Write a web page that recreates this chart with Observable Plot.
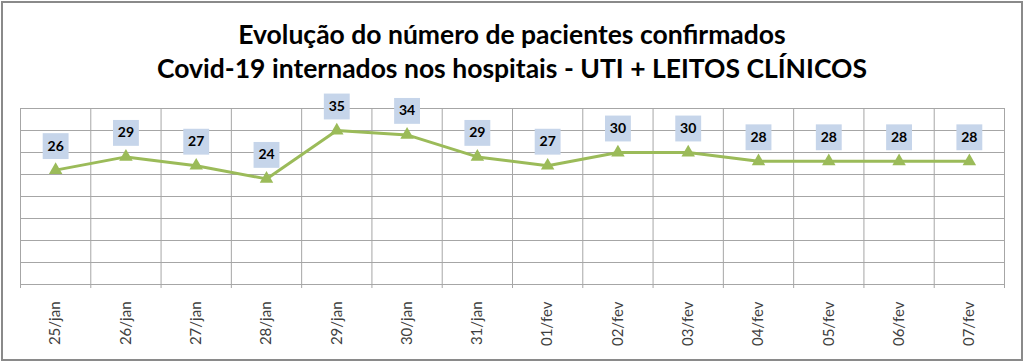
<!DOCTYPE html>
<html>
<head>
<meta charset="utf-8">
<script src="https://cdn.jsdelivr.net/npm/d3@7"></script>
<script src="https://cdn.jsdelivr.net/npm/@observablehq/plot@0.6"></script>
<style>
  html, body { margin: 0; padding: 0; background: #fff; width: 1024px; height: 364px; overflow: hidden; }
  #frame { position: absolute; left: 1px; top: 1px; width: 1018px; height: 356px; border: 2px solid #8a8a8a; pointer-events: none; z-index: 2; }
  #title { position: absolute; left: 0; top: 17px; width: 1024px; text-align: center; font-family: Lato, sans-serif; font-weight: 700; font-size: 26.5px; line-height: 34px; color: #000; }
  #chart { position: absolute; left: 0; top: 90px; }
</style>
</head>
<body>
<div id="frame"></div>
<div id="title">Evolução do número de pacientes confirmados<br>Covid-19 internados nos hospitais - UTI + LEITOS CLÍNICOS</div>
<div id="chart"></div>
<script>
const dates = ["25/jan","26/jan","27/jan","28/jan","29/jan","30/jan","31/jan","01/fev","02/fev","03/fev","04/fev","05/fev","06/fev","07/fev"];
const values = [26, 29, 27, 24, 35, 34, 29, 27, 30, 30, 28, 28, 28, 28];
const yTicks = [0, 5, 10, 15, 20, 25, 30, 35, 40];

const data = dates.map((d, i) => ({i, date: d, value: values[i]}));
const boundaries = d3.range(dates.length + 1);
const centers = data.map(d => d.i + 0.5);

const green = "#9bbb59";
const grid = "#a6a6a6";

const chart = Plot.plot({
  width: 1024,
  height: 274,
  marginTop: 18,
  marginBottom: 80,
  marginLeft: 20,
  marginRight: 20,
  style: {fontFamily: "Lato, sans-serif", background: "transparent"},
  x: {type: "linear", domain: [0, dates.length], axis: null},
  y: {domain: [0, 40], axis: null},
  marks: [
    Plot.ruleY(yTicks, {stroke: grid, strokeWidth: 1}),
    Plot.ruleX(boundaries, {stroke: grid, strokeWidth: 1, insetBottom: -4}),
    Plot.axisX(centers, {
      tickFormat: v => dates[Math.floor(v)],
      tickRotate: -90,
      tickSize: 0,
      tickPadding: 17,
      fontSize: 15,
      fill: "#404040"
    }),
    Plot.line(data, {x: d => d.i + 0.5, y: "value", stroke: green, strokeWidth: 3}),
    Plot.dot(data, {x: d => d.i + 0.5, y: "value", symbol: "triangle", r: 5, fill: green, stroke: "none"}),
    Plot.dot(data, {x: d => d.i + 0.5, y: "value", symbol: "square", r: 14.6, fill: "#c6d5ea", stroke: "none", dy: -24}),
    Plot.text(data, {x: d => d.i + 0.5, y: "value", text: d => String(d.value), dy: -24, fill: "#000", fontSize: 14, fontWeight: "bold", textAnchor: "middle", lineAnchor: "middle"})
  ]
});
document.getElementById("chart").appendChild(chart);
</script>
</body>
</html>
